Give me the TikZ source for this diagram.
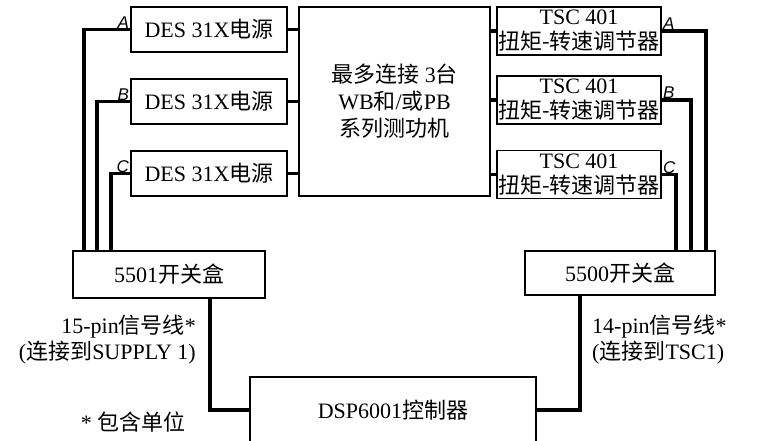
\documentclass[tikz,border=0pt]{standalone}
\usepackage{fontspec}
\setmainfont{Liberation Serif}
\setsansfont{Liberation Sans}
\newfontfamily\cjk{Noto Sans CJK SC}
\newcommand{\zh}[1]{{\cjk #1}}
\usetikzlibrary{positioning}

\begin{document}
\begin{tikzpicture}[x=1pt, y=-1pt,
    unit/.style={draw, line width=1.8pt, inner sep=0pt, align=center,
      font=\fontsize{22}{25}\selectfont},
    wire/.style={line width=3.8pt},
    tag/.style={inner sep=1pt, font=\sffamily\itshape\fontsize{17}{17}\selectfont},
    note/.style={inner sep=0pt, font=\fontsize{22}{26}\selectfont}]
  \useasboundingbox (0,0) rectangle (760,441);

  % dynamometer block in the middle
  \node[unit, minimum width=191, minimum height=189, font=\fontsize{22}{27}\selectfont]
    (mid) at (394.5,101.5) {\zh{最多连接} 3\zh{台}\\WB\zh{和}/\zh{或}PB\\\zh{系列测功机}};

  % power supplies
  \node[unit, minimum width=156, minimum height=45] (desA) at (209,29.5) {DES\ 31X\zh{电源}};
  \node[unit, minimum width=156, minimum height=45] (desB) at (209,101.5) {DES\ 31X\zh{电源}};
  \node[unit, minimum width=156, minimum height=45] (desC) at (209,173.5) {DES\ 31X\zh{电源}};

  % controllers
  \node[unit, minimum width=164, minimum height=48] (tscA) at (579,31) {TSC\ 401\\\zh{扭矩-转速调节器}};
  \node[unit, minimum width=164, minimum height=48] (tscB) at (579,100) {TSC\ 401\\\zh{扭矩-转速调节器}};
  \node[unit, minimum width=164, minimum height=48] (tscC) at (579,174.5) {TSC\ 401\\\zh{扭矩-转速调节器}};

  % switch boxes and DSP
  \node[unit, minimum width=192, minimum height=47] (sw1) at (169,274.5) {5501\zh{开关盒}};
  \node[unit, minimum width=190, minimum height=44] (sw2) at (620,273) {5500\zh{开关盒}};
  \node[unit, minimum width=286, minimum height=66] (dsp) at (393,410) {DSP6001\zh{控制器}};

  % stubs to the dynamometers
  \foreach \u in {desA,desB,desC} {
    \draw[wire] (\u.east) -- (\u.east -| mid.west);
  }
  \foreach \u in {tscA,tscB,tscC} {
    \draw[wire] (\u.west) -- (\u.west -| mid.east);
  }

  % cables to the switch boxes
  \draw[wire] (desA.west) -| ([xshift=12]sw1.north west);
  \draw[wire] (desB.west) -| ([xshift=25]sw1.north west);
  \draw[wire] (desC.west) -| ([xshift=39]sw1.north west);
  \draw[wire] (tscA.east) -| ([xshift=-10]sw2.north east);
  \draw[wire] (tscB.east) -| ([xshift=-25]sw2.north east);
  \draw[wire] (tscC.east) -| ([xshift=-40]sw2.north east);

  % signal cables to the DSP
  \draw[wire] ([xshift=41]sw1.south) |- (dsp.west);
  \draw[wire] ([xshift=-40]sw2.south) |- (dsp.east);

  % channel letters
  \node[tag, anchor=south east] (tA1) at (desA.west) {A};
  \node[tag, anchor=south east] (tB1) at (desB.west) {B};
  \node[tag, anchor=south east] (tC1) at (desC.west) {C};
  \node[tag, anchor=south west] (tA2) at (tscA.east) {A};
  \node[tag, anchor=south west] (tB2) at (tscB.east) {B};
  \node[tag, anchor=south west] (tC2) at (tscC.east) {C};

  % cable notes
  \node[note, align=right, anchor=east] (n15) at (196,340)
    {15-pin\zh{信号线}*\\(\zh{连接到}SUPPLY\ 1)};
  \node[note, align=left, anchor=west] (n14) at (592,340)
    {14-pin\zh{信号线}*\\(\zh{连接到}TSC1)};
  \node[note] (foot) at (133,422) {*\ \zh{包含单位}};
\end{tikzpicture}
\end{document}
